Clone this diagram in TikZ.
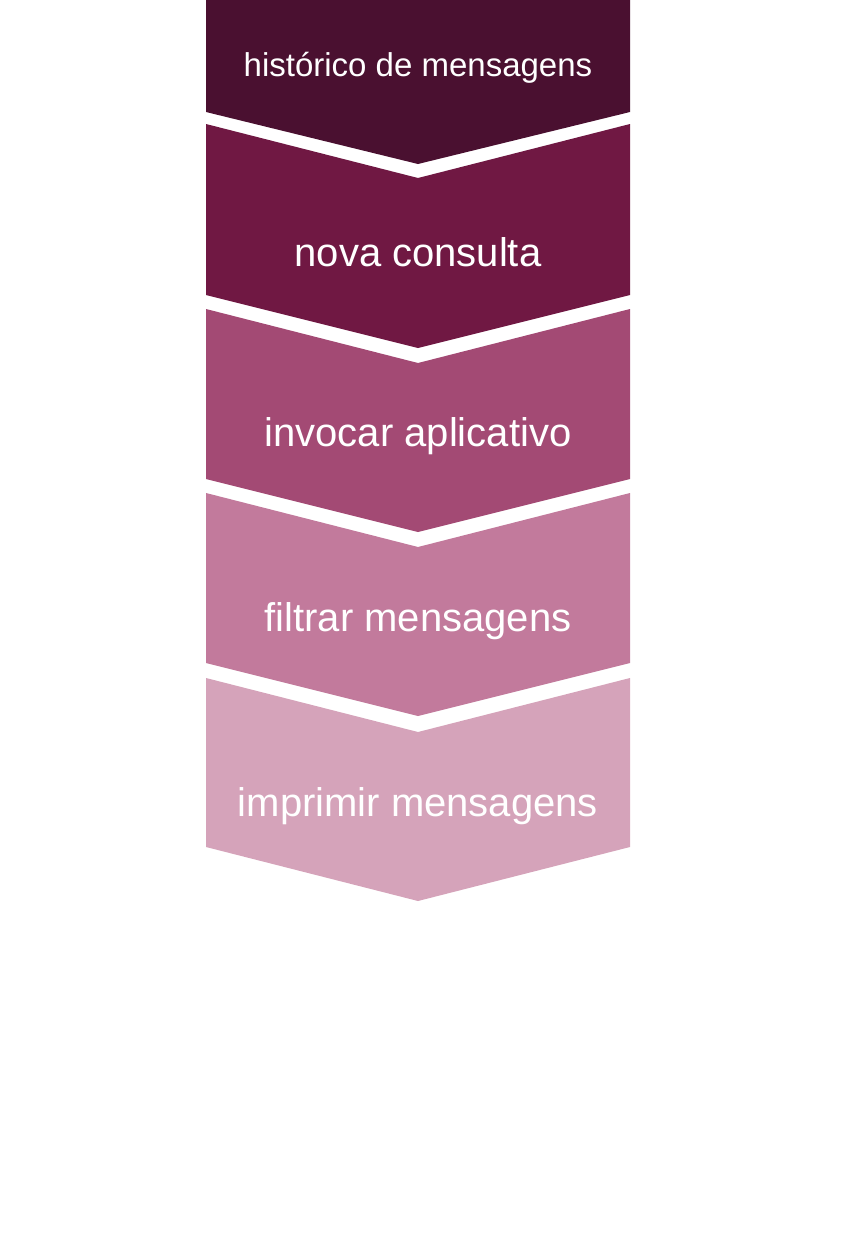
\documentclass[tikz,border=0pt]{standalone}
\usepackage{fontspec}
\setmainfont{Liberation Sans}
\begin{document}
\begin{tikzpicture}[x=1pt,y=-1pt,
  lbl/.style={text=white,font=\fontsize{40}{48}\selectfont},
  lbls/.style={text=white,font=\fontsize{33}{40}\selectfont}]
\definecolor{c1}{HTML}{4A1030}
\definecolor{c2}{HTML}{701843}
\definecolor{c3}{HTML}{A34A74}
\definecolor{c4}{HTML}{C27A9C}
\definecolor{c5}{HTML}{D5A3BA}
\useasboundingbox (0,0) rectangle (864,1234);
\fill[c1] (206,0) -- (630,0) -- (630,112) -- (418,164) -- (206,112) -- cycle;
\fill[c2] (206,124) -- (418,178) -- (630,124) -- (630,295) -- (418,348) -- (206,295) -- cycle;
\fill[c3] (206,309) -- (418,363) -- (630,309) -- (630,479) -- (418,532) -- (206,479) -- cycle;
\fill[c4] (206,493) -- (418,547) -- (630,493) -- (630,663) -- (418,716) -- (206,663) -- cycle;
\fill[c5] (206,678) -- (418,732) -- (630,678) -- (630,847) -- (418,901) -- (206,847) -- cycle;
\node[lbls] (t1) at (418,68) {histórico de mensagens};
\node[lbl] (t2) at (418,252) {nova consulta};
\node[lbl] (t3) at (418,436) {invocar aplicativo};
\node[lbl] (t4) at (418,621) {filtrar mensagens};
\node[lbl] (t5) at (418,806) {imprimir mensagens};
\end{tikzpicture}
\end{document}
